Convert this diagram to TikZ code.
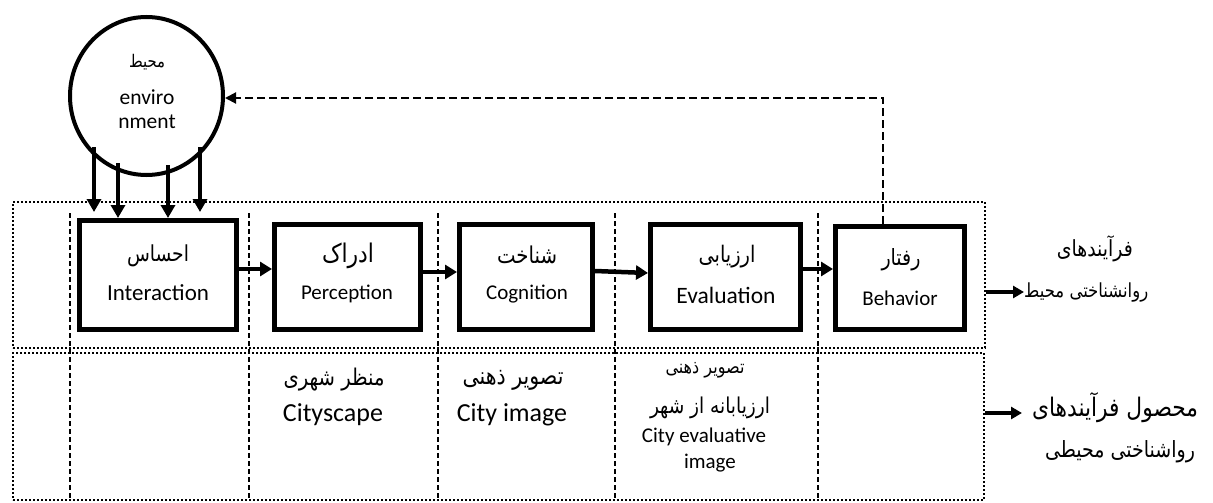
\documentclass[tikz,border=0pt]{standalone}
\usepackage{fontspec}
\usepackage{graphicx}
\setmainfont{Carlito}
\newfontfamily\fafont[Script=Arabic,FakeStretch=0.85]{DejaVu Sans}
\TeXXeTstate=1
\usetikzlibrary{arrows.meta,shapes.geometric,calc}
\newcommand{\en}[2]{{\fontsize{#1}{#1}\selectfont #2}}
\begin{document}
\begin{tikzpicture}[x=1pt,y=-1pt,
  procbox/.style={draw, line width=5pt, inner sep=0pt},
  dotbox/.style={draw, line width=2pt, dash pattern=on 2pt off 2pt, inner sep=0pt},
  sepline/.style={line width=1.5pt, dash pattern=on 5pt off 3pt},
  flow/.style={line width=4.5pt, -{Triangle[width=14pt,length=12pt]}},
  feed/.style={line width=4pt, -{Triangle[width=14pt,length=13pt]}},
  back/.style={line width=2pt, dash pattern=on 8pt off 4pt, -{Triangle[width=11pt,length=11pt]}},
  side/.style={line width=4pt, -{Triangle[width=12pt,length=11pt]}},
  txt/.style={inner sep=0pt, align=center},
  fatxt/.style={inner sep=0pt, align=center, font=\fontsize{20}{20}\fafont}
]
\useasboundingbox (0,0) rectangle (1213,503);
\fill[white] (0,0) rectangle (1213,503);

% rows
\node[dotbox, minimum width=972pt, minimum height=146pt] (toprow) at (499,275) {};
\node[dotbox, minimum width=971pt, minimum height=147pt] (botrow) at (498.5,426.5) {};

% column separators
\foreach \x in {70,249,438,615,818} \draw[sepline] (\x,213) -- (\x,500);

% environment
\node[draw, ellipse, line width=4pt, minimum width=153pt, minimum height=158pt, inner sep=0pt] (env) at (146.5,96) {};
\node[fatxt] (envfa) at (147,62) {\resizebox{36pt}{!}{\beginR محیط\endR}};
\node[txt] (enven1) at (147,97) {\en{21.5}{enviro}};
\node[txt] (enven2) at (147,122) {\en{21.5}{nment}};

% process boxes
\node[procbox, minimum width=157pt, minimum height=109pt] (inter) at (158,275) {};
\node[procbox, minimum width=146pt, minimum height=105pt] (perc) at (347.5,277) {};
\node[procbox, minimum width=133pt, minimum height=105pt] (cogn) at (526,277) {};
\node[procbox, minimum width=150pt, minimum height=105pt] (eval) at (725.5,277) {};
\node[procbox, minimum width=129pt, minimum height=103pt] (behav) at (900,278) {};

\node[fatxt] (interfa) at (158,256) {\resizebox{62pt}{!}{\beginR احساس\endR}};
\node[txt] (interen) at (158,293) {\en{23}{Interaction}};
\node[fatxt] (percfa) at (348,256) {\resizebox{52pt}{!}{\beginR ادراک\endR}};
\node[txt] (percen) at (347,294) {\en{21}{Perception}};
\node[fatxt] (cognfa) at (527,255) {\resizebox{60pt}{!}{\beginR شناخت\endR}};
\node[txt] (cognen) at (527,294) {\en{21}{Cognition}};
\node[fatxt] (evalfa) at (727,257) {\resizebox{57pt}{!}{\beginR ارزیابی\endR}};
\node[txt] (evalen) at (726,295) {\en{23.5}{Evaluation}};
\node[fatxt] (behavfa) at (901,260) {\resizebox{39pt}{!}{\beginR رفتار\endR}};
\node[txt] (behaven) at (900,298) {\en{21}{Behavior}};

% arrows from environment
\coordinate (d1) at ($(env.center)+(-52.5,51)$);
\coordinate (d2) at ($(env.center)+(-28.5,67)$);
\coordinate (d3) at ($(env.center)+(21.5,69)$);
\coordinate (d4) at ($(env.center)+(53.5,51)$);
\draw[feed] (d1) -- ([xshift=-64pt,yshift=6pt]inter.north);
\draw[feed] (d2) -- ([xshift=-40pt]inter.north);
\draw[feed] (d3) -- ([xshift=10pt]inter.north);
\draw[feed] (d4) -- ([xshift=42pt,yshift=6pt]inter.north);

% flow arrows
\draw[flow] ([yshift=6pt]inter.east) -- ([yshift=8pt]perc.west);
\draw[flow] ([yshift=5pt]perc.east) -- ([yshift=5pt]cogn.west);
\draw[flow] ([yshift=6pt]cogn.east) -- ([yshift=4pt]eval.west);
\draw[flow] ([yshift=8pt]eval.east) -- ([yshift=9pt]behav.west);

% feedback
\draw[back] ([xshift=-17pt]behav.north) |- ([yshift=-2pt]env.east);

% bottom row texts
\node[fatxt] (c1fa) at (334,380) {\resizebox{101pt}{!}{\beginR منظر شهری\endR}};
\node[txt] (c1en) at (333,415) {\en{26}{Cityscape}};
\node[fatxt] (c2fa) at (513,380) {\resizebox{101pt}{!}{\beginR تصویر ذهنی\endR}};
\node[txt] (c2en) at (512,415) {\en{26}{City image}};
\node[fatxt] (c3fa) at (705,370) {\resizebox{79pt}{!}{\beginR تصویر ذهنی\endR}};
\node[fatxt] (c3fb) at (710,408) {\resizebox{120pt}{!}{\beginR ارزیابانه از شهر\endR}};
\node[txt] (c3en) at (704,437) {\en{21}{City evaluative}};
\node[txt] (c3en2) at (710,463) {\en{21}{image}};

% right labels
\node[fatxt, anchor=east] (lab1) at (1133,249) {\resizebox{76pt}{!}{\beginR فرآیندهای\endR}};
\node[fatxt, anchor=west] (lab2) at (1024,292) {\resizebox{124pt}{!}{\beginR روانشناختی محیط\endR}};
\draw[side] (toprow.east |- lab2.west) -- (lab2.west);
\node[fatxt] (lab3) at (1115,408) {\resizebox{166pt}{!}{\beginR محصول فرآیندهای\endR}};
\node[fatxt] (lab4) at (1120,452) {\resizebox{150pt}{!}{\beginR رواشناختی محیطی\endR}};
\coordinate (a3) at (1022,413);
\draw[side] (botrow.east |- a3) -- (a3);
\end{tikzpicture}
\end{document}
